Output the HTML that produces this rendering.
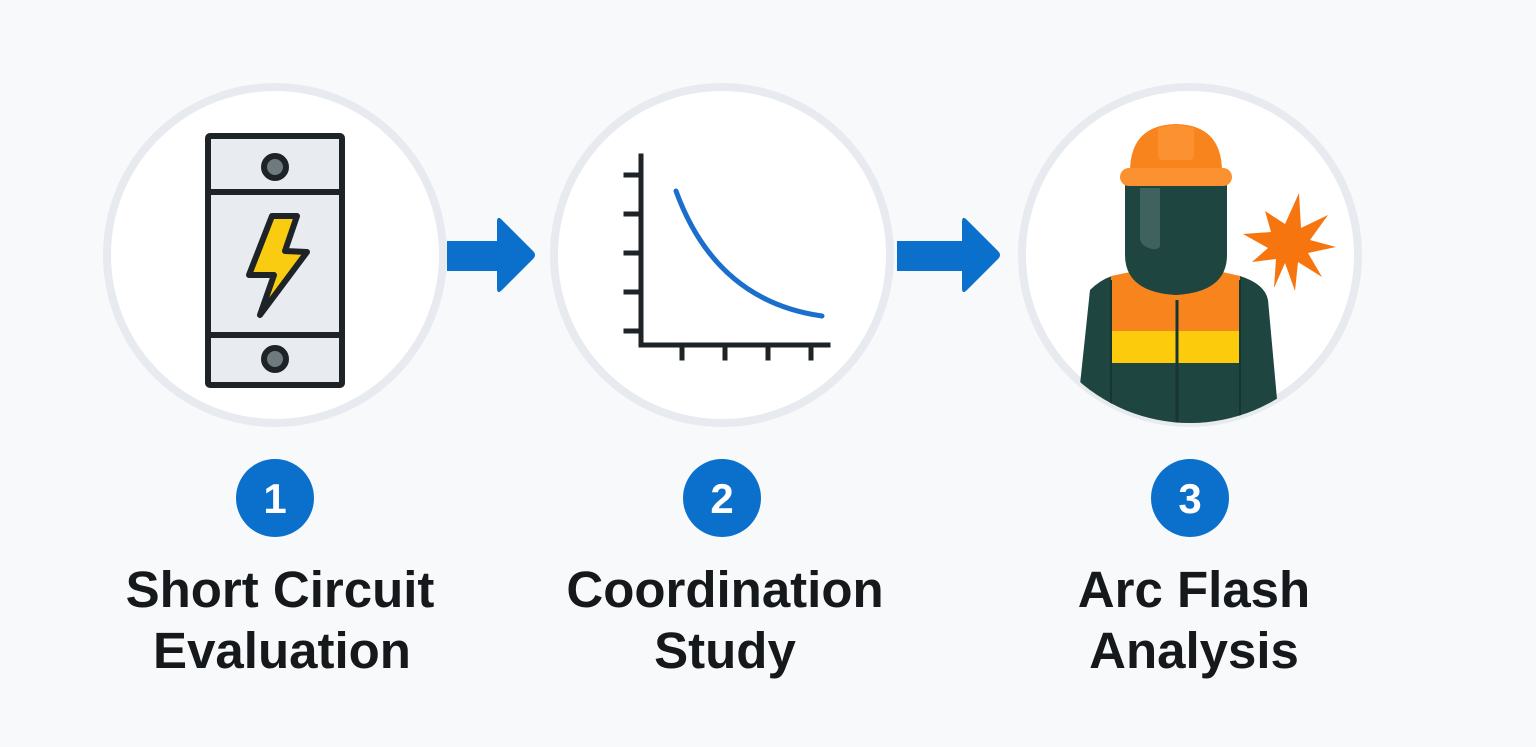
<!DOCTYPE html>
<html><head><meta charset="utf-8"><style>
html,body{margin:0;padding:0;background:#f8f9fa;}
svg{display:block}
text{font-family:"Liberation Sans",sans-serif;font-weight:bold}
</style></head><body>
<svg width="1536" height="747" viewBox="0 0 1536 747" xmlns="http://www.w3.org/2000/svg">
<rect width="1536" height="747" fill="#f8f9fa"/>
<defs><clipPath id="c3"><circle cx="1190" cy="255" r="168"/></clipPath></defs>
<circle cx="275" cy="255" r="168" fill="#fff" stroke="#e7eaee" stroke-width="8"/>
<circle cx="722" cy="255" r="168" fill="#fff" stroke="#e7eaee" stroke-width="8"/>
<circle cx="1190" cy="255" r="168" fill="#fff" stroke="#e7eaee" stroke-width="8"/>
<path d="M447 241 H497 V222 Q497 215 502 220 L533 251 Q537 255 533 259 L502 290 Q497 295 497 288 V271 H447Z" fill="#0b6fcc"/>
<path d="M897 241 H962 V222 Q962 215 967 220 L998 251 Q1002 255 998 259 L967 290 Q962 295 962 288 V271 H897Z" fill="#0b6fcc"/>
<rect x="208" y="136" width="134" height="249" rx="2" fill="#e8ebef" stroke="#1d2326" stroke-width="6"/>
<line x1="208" y1="192" x2="342" y2="192" stroke="#1d2326" stroke-width="6"/>
<line x1="208" y1="335" x2="342" y2="335" stroke="#1d2326" stroke-width="6"/>
<circle cx="275" cy="167" r="11" fill="#6e7a7e" stroke="#1d2326" stroke-width="6"/>
<circle cx="275" cy="359" r="11" fill="#6e7a7e" stroke="#1d2326" stroke-width="6"/>
<path d="M272 216 L297 216 L285 251 L307 252 L260 315 L274 275 L249 275Z" fill="#f9cc12" stroke="#1d2326" stroke-width="6" stroke-linejoin="round"/>
<g stroke="#1d2326" stroke-width="5" fill="none" stroke-linecap="square">
<path d="M641 156 V345 H828"/>
<path d="M626 175 H641 M626 214 H641 M626 253 H641 M626 292 H641 M626 331 H641"/>
<path d="M682 345 V358 M725 345 V358 M768 345 V358 M811 345 V358"/>
</g>
<path d="M676 191 Q716 301 822 316" stroke="#1a6fcc" stroke-width="5" fill="none" stroke-linecap="round"/>
<g clip-path="url(#c3)">
<path d="M1090 290 Q1100 280 1112 276 L1150 270 H1205 L1240 276 Q1265 284 1268 300 L1280 432 H1075 Z" fill="#1f4541"/>
<path d="M1111 276 L1150 268 H1205 L1240 276 V331 H1111Z" fill="#f7841d"/>
<rect x="1111" y="331" width="129" height="32" fill="#fccb0c"/>
<line x1="1177" y1="300" x2="1177" y2="430" stroke="#173632" stroke-width="3"/>
<line x1="1111" y1="280" x2="1111" y2="430" stroke="#173632" stroke-width="2"/>
<line x1="1240" y1="280" x2="1240" y2="430" stroke="#173632" stroke-width="2"/>
</g>
<path d="M1125 185 H1227 V255 Q1227 292 1176 295 Q1125 292 1125 255Z" fill="#1f4541"/>
<path d="M1140 188 H1160 V245 Q1160 250 1152 249 Q1140 246 1140 238Z" fill="#3f625f"/>
<path d="M1130 172 Q1130 125 1176 124 Q1222 125 1222 172 Z" fill="#f7841d"/>
<path d="M1158 128 Q1176 122 1194 128 V155 Q1194 160 1189 160 H1163 Q1158 160 1158 155Z" fill="#fb9131"/>
<rect x="1120" y="168" width="112" height="18" rx="9" fill="#fb9131"/>
<polygon fill="#f7750f" points="1299,193 1301,228 1328,215 1310,240 1336,247 1308,253 1322,277 1298,262 1295,291 1285,263 1274,288 1276,259 1252,262 1268,248 1243,234 1271,232 1265,211 1285,224" />
<circle cx="275" cy="498" r="39" fill="#0b6fcc"/>
<circle cx="722" cy="498" r="39" fill="#0b6fcc"/>
<circle cx="1190" cy="498" r="39" fill="#0b6fcc"/>
<text x="275" y="513" font-size="42" fill="#fff" text-anchor="middle">1</text>
<text x="722" y="513" font-size="42" fill="#fff" text-anchor="middle">2</text>
<text x="1190" y="513" font-size="42" fill="#fff" text-anchor="middle">3</text>
<g font-size="51" fill="#16191c" text-anchor="middle">
<text x="280" y="607">Short Circuit</text>
<text x="282" y="668">Evaluation</text>
<text x="725" y="607">Coordination</text>
<text x="725" y="668">Study</text>
<text x="1194" y="607">Arc Flash</text>
<text x="1194" y="668">Analysis</text>
</g>
</svg>
</body></html>
